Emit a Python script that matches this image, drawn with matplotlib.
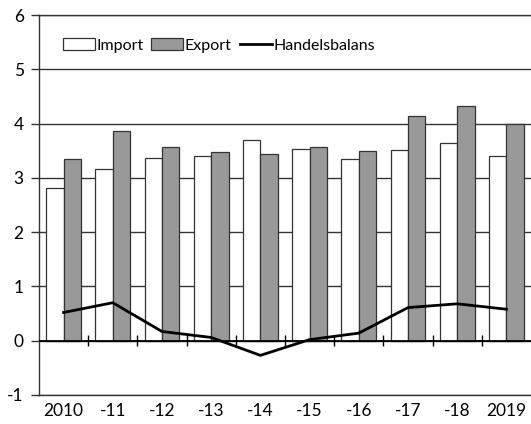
import numpy as np
import matplotlib
matplotlib.use("Agg")
import matplotlib.pyplot as plt

# Data
years = ["2010", "-11", "-12", "-13", "-14", "-15", "-16", "-17", "-18", "2019"]
imports = [2.81, 3.16, 3.37, 3.40, 3.70, 3.54, 3.35, 3.52, 3.64, 3.40]
exports = [3.35, 3.87, 3.56, 3.48, 3.44, 3.56, 3.49, 4.14, 4.33, 3.99]
balance = [0.52, 0.70, 0.17, 0.06, -0.27, 0.02, 0.14, 0.61, 0.68, 0.58]

plt.rcParams['font.family'] = ['Lato', 'DejaVu Sans']

fig = plt.figure(figsize=(5.31, 4.24), dpi=100)
ax = fig.add_axes([0.0734, 0.0684, 0.9266, 0.8962])

x = np.arange(len(years))
w = 0.355

b1 = ax.bar(x - w / 2, imports, w, color="white", edgecolor="#333333", linewidth=0.9,
            label="Import", zorder=2)
b2 = ax.bar(x + w / 2, exports, w, color="#999999", edgecolor="#333333", linewidth=0.9,
            label="Export", zorder=2)
l1, = ax.plot(x, balance, color="black", linewidth=2, label="Handelsbalans", zorder=4)

# zero line with tick marks between the years
ax.axhline(0, color="black", linewidth=1.3, zorder=3)
ax.vlines(x[:-1] + 0.5, -0.1, 0.1, color="black", linewidth=1, zorder=3)

ax.set_xlim(-0.5, len(years) - 0.5)
ax.set_ylim(-1, 6)
ax.set_yticks(range(-1, 7))
ax.set_yticklabels([str(v) for v in range(-1, 7)])
ax.set_xticks(x)
ax.set_xticklabels(years)
ax.tick_params(axis="x", length=0, pad=6, labelsize=12.5)
ax.tick_params(axis="y", length=6, width=1, color="#333333", pad=5, labelsize=12.5)

ax.yaxis.grid(True, color="#333333", linewidth=1)
ax.set_axisbelow(True)

ax.spines["right"].set_visible(False)
for s in ["left", "bottom", "top"]:
    ax.spines[s].set_color("#333333")
    ax.spines[s].set_linewidth(1)

ax.legend([b1, b2, l1], ["Import", "Export", "Handelsbalans"],
          loc="upper left", bbox_to_anchor=(0.035, 0.955), ncol=3, frameon=False,
          fontsize=11.5, handlelength=2.0, handleheight=0.7, handletextpad=0.1,
          columnspacing=0.5, borderaxespad=0)

fig.savefig("out.png", dpi=100)
